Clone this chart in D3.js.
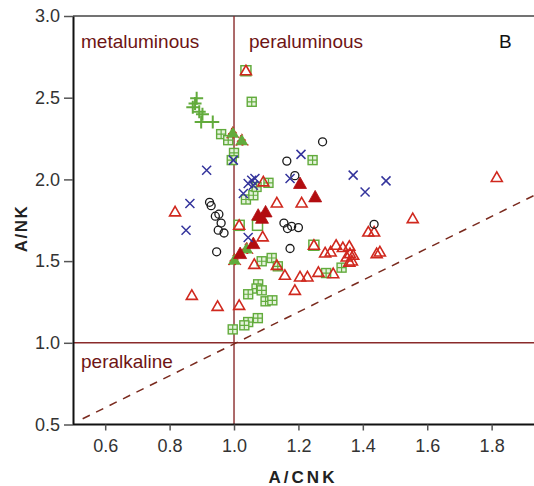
<!DOCTYPE html>
<html><head><meta charset="utf-8">
<script src="https://cdn.jsdelivr.net/npm/d3@7/dist/d3.min.js"></script>
<style>body{margin:0;background:#fff}svg{display:block;font-family:"Liberation Sans",Arial,sans-serif}</style>
</head><body>
<svg id="c" width="534" height="486"></svg>
<script>
const xTicks=[0.6,0.8,1.0,1.2,1.4,1.6,1.8];
const yTicks=[0.5,1.0,1.5,2.0,2.5,3.0];
const circles=[[0.924,1.860],[0.929,1.839],[0.942,1.775],[0.953,1.787],[0.960,1.733],[0.951,1.689],[0.969,1.672],[0.946,1.557],[1.275,2.230],[1.164,2.112],[1.189,2.023],[1.155,1.733],[1.166,1.699],[1.179,1.713],[1.200,1.705],[1.174,1.577],[1.435,1.725]];
const crosses=[[0.915,2.056],[0.863,1.852],[0.851,1.689],[0.998,2.118],[1.055,1.995],[1.044,1.975],[1.065,2.006],[1.060,1.964],[1.029,1.914],[1.044,1.644],[1.208,2.153],[1.174,2.006],[1.370,2.026],[1.407,1.923],[1.472,1.991]];
const openSquares=[[1.037,2.665],[1.016,1.719],[1.248,1.597],[1.073,1.719]];
const gridSquares=[[1.055,2.475],[0.960,2.277],[0.982,2.240],[1.000,2.162],[0.993,2.118],[1.244,2.118],[1.037,1.877],[1.060,1.903],[1.107,1.979],[1.070,1.954],[1.086,1.499],[1.117,1.519],[1.136,1.468],[1.075,1.358],[1.070,1.332],[1.086,1.321],[1.044,1.297],[1.098,1.254],[1.119,1.260],[1.044,1.127],[1.032,1.107],[1.074,1.151],[0.996,1.082],[1.334,1.460],[1.286,1.427]];
const pluses=[[0.884,2.496],[0.879,2.465],[0.872,2.441],[0.892,2.414],[0.902,2.398],[0.898,2.352],[0.934,2.352]];
const openTriangles=[[1.037,2.665],[0.817,1.801],[1.091,1.985],[1.133,1.856],[1.210,1.856],[1.016,1.719],[1.089,1.648],[1.063,1.480],[1.133,1.474],[0.869,1.290],[0.949,1.223],[1.016,1.229],[1.158,1.413],[1.205,1.403],[1.228,1.403],[1.262,1.431],[1.308,1.423],[1.189,1.321],[1.248,1.597],[1.317,1.597],[1.338,1.583],[1.358,1.591],[1.283,1.550],[1.300,1.556],[1.360,1.546],[1.350,1.525],[1.370,1.536],[1.366,1.501],[1.358,1.494],[1.443,1.546],[1.453,1.556],[1.417,1.678],[1.435,1.678],[1.555,1.760],[1.816,2.012]];
const redFilled=[[1.205,1.975],[1.252,1.893],[1.075,1.781],[1.098,1.801],[1.087,1.762],[1.060,1.607],[1.019,1.546]];
const greenFilled=[[0.996,2.285],[1.024,2.240],[1.039,1.577],[1.001,1.509]];

const svg=d3.select('#c');
const x=d3.scaleLinear().domain([0.5,1.93]).range([73,533.5]);
const y=d3.scaleLinear().domain([0.5,3.0]).range([424.5,16]);
const dark='#6e1414', lineC='#8a2b2b';
const RED='#d0281e', REDF='#b20d10', GREEN='#62ab3c', BLUE='#34349c';

svg.append('line').attr('x1',x(0.5)).attr('x2',534).attr('y1',y(3)).attr('y2',y(3)).attr('stroke','#444').attr('stroke-width',1.5);
svg.append('line').attr('x1',x(1)).attr('x2',x(1)).attr('y1',y(3)).attr('y2',y(0.5)).attr('stroke',lineC).attr('stroke-width',1.4);
svg.append('line').attr('x1',x(0.5)).attr('x2',534).attr('y1',y(1)).attr('y2',y(1)).attr('stroke',lineC).attr('stroke-width',1.4);
svg.append('line').attr('x1',x(0.53)).attr('y1',y(0.535)).attr('x2',x(1.93)).attr('y2',y(1.9)).attr('stroke','#7a2a1e').attr('stroke-width',1.5).attr('stroke-dasharray','8,7');

const xa=svg.append('g').attr('transform',`translate(0,${y(0.5)})`).call(d3.axisBottom(x).tickValues(xTicks).tickSize(6).tickSizeOuter(0).tickFormat(d3.format('.1f')));
const ya=svg.append('g').attr('transform',`translate(${x(0.5)},0)`).call(d3.axisLeft(y).tickValues(yTicks).tickSize(9).tickSizeOuter(0).tickFormat(d3.format('.1f')));
[xa,ya].forEach(a=>{a.select('.domain').attr('stroke','#111').attr('stroke-width',2);a.selectAll('.tick line').attr('stroke','#555').attr('stroke-width',1.5);a.selectAll('text').attr('font-size',18).attr('fill','#333').attr('font-family','"Liberation Sans",Arial,sans-serif');});
xa.select('.domain').attr('d',`M${x(0.5)},0H534`);
xa.selectAll('text').attr('dy','1.05em');
ya.selectAll('text').attr('dx','-0.05em');

svg.append('text').attr('x',81).attr('y',48).attr('fill',dark).attr('font-size',19).text('metaluminous');
svg.append('text').attr('x',249).attr('y',48).attr('fill',dark).attr('font-size',19).text('peraluminous');
svg.append('text').attr('x',81).attr('y',368).attr('fill',dark).attr('font-size',19).text('peralkaline');
svg.append('text').attr('x',499).attr('y',48).attr('fill','#111').attr('font-size',19).text('B');
svg.append('text').attr('x',303).attr('y',483).attr('text-anchor','middle').attr('font-weight','bold').attr('font-size',17).attr('letter-spacing',3).attr('fill','#222').text('A/CNK');
svg.append('text').attr('transform',`translate(27,${y(1.7)}) rotate(-90)`).attr('text-anchor','middle').attr('font-weight','bold').attr('font-size',17).attr('letter-spacing',1.5).attr('fill','#222').text('A/NK');

const g=svg.append('g');
g.selectAll('.sq').data(openSquares).join('rect').attr('x',d=>x(d[0])-5).attr('y',d=>y(d[1])-5).attr('width',10).attr('height',10).attr('fill','none').attr('stroke',GREEN).attr('stroke-width',1.5);
const gs=g.selectAll('.gs').data(gridSquares).join('g').attr('transform',d=>`translate(${x(d[0])},${y(d[1])})`);
gs.append('rect').attr('x',-4.5).attr('y',-4.5).attr('width',9).attr('height',9).attr('fill','#e4f2dc').attr('stroke',GREEN).attr('stroke-width',1.4);
gs.append('path').attr('d','M0,-4.5V4.5M-4.5,0H4.5').attr('stroke',GREEN).attr('stroke-width',1.2);
g.selectAll('.pl').data(pluses).join('path').attr('d',d=>{const a=x(d[0]),b=y(d[1]);return `M${a-6.5},${b}H${a+6.5}M${a},${b-6.5}V${b+6.5}`;}).attr('stroke',GREEN).attr('stroke-width',2);
const tri='M0,-6.5L6.5,5L-6.5,5Z';
g.selectAll('.gf').data(greenFilled).join('path').attr('d',tri).attr('transform',d=>`translate(${x(d[0])},${y(d[1])})`).attr('fill',GREEN).attr('stroke',RED).attr('stroke-width',1).attr('stroke-dasharray','2,4');
g.selectAll('.ot').data(openTriangles).join('path').attr('d','M0,-5.5L5.5,4L-5.5,4Z').attr('transform',d=>`translate(${x(d[0])},${y(d[1])})`).attr('fill','none').attr('stroke',RED).attr('stroke-width',1.6);
g.selectAll('.rf').data(redFilled).join('path').attr('d',tri).attr('transform',d=>`translate(${x(d[0])},${y(d[1])})`).attr('fill',REDF).attr('stroke',REDF).attr('stroke-width',0.8);
g.selectAll('.ci').data(circles).join('circle').attr('cx',d=>x(d[0])).attr('cy',d=>y(d[1])).attr('r',4).attr('fill','none').attr('stroke','#1a1a1a').attr('stroke-width',1.3);
g.selectAll('.cr').data(crosses).join('path').attr('d',d=>{const a=x(d[0]),b=y(d[1]),s=4.5;return `M${a-s},${b-s}L${a+s},${b+s}M${a-s},${b+s}L${a+s},${b-s}`;}).attr('stroke',BLUE).attr('stroke-width',1.5);
</script>
</body></html>
